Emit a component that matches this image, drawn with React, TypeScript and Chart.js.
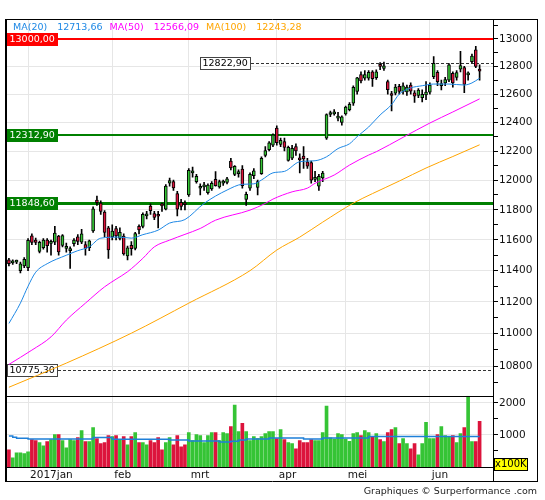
import React, { useEffect, useRef } from "react";
import { Chart, registerables } from "chart.js";

Chart.register(...registerables);

// ---------------- data ----------------
const monthKeys = ["2016-12", "2017-01", "2017-02", "2017-03", "2017-04", "2017-05", "2017-06"];
const monthTickLabels = ["", "2017jan", "feb", "mrt", "apr", "mei", "jun"];
const decDays = [23, 27, 28, 29, 30];
const janDays = [2, 3, 4, 5, 6, 9, 10, 11, 12, 13, 16, 17, 18, 19, 20, 23, 24, 25, 26, 27, 30, 31];
const febDays = [1, 2, 3, 6, 7, 8, 9, 10, 13, 14, 15, 16, 17, 20, 21, 22, 23, 24, 27, 28];
const marDays = [1, 2, 3, 6, 7, 8, 9, 10, 13, 14, 15, 16, 17, 20, 21, 22, 23, 24, 27, 28, 29, 30, 31];
const aprDays = [3, 4, 5, 6, 7, 10, 11, 12, 13, 18, 19, 20, 21, 24, 25, 26, 27, 28];
const mayDays = [2, 3, 4, 5, 8, 9, 10, 11, 12, 15, 16, 17, 18, 19, 22, 23, 24, 25, 26, 29, 30, 31];
const junDays = [1, 2, 6, 7, 8, 9, 12, 13, 14, 15, 16, 19, 20, 21];
const monthDays = [decDays, janDays, febDays, marDays, aprDays, mayDays, junDays];
const trailingSlots = 3;

const opens = [
  11470, 11450, 11455, 11400, 11430, 11420, 11628, 11600, 11525, 11550,
  11600, 11578, 11585, 11625, 11565, 11545, 11530, 11575, 11620, 11585,
  11570, 11550, 11660, 11865, 11845, 11785, 11680, 11620, 11676, 11610,
  11625, 11495, 11565, 11545, 11690, 11690, 11760, 11825, 11775, 11770,
  11830, 11805, 11980, 11990, 11910, 11850, 11845, 11900, 12050, 11990,
  11945, 11955, 11915, 11940, 12005, 11955, 11980, 11985, 12130, 12040,
  12045, 12075, 11870, 11945, 12030, 11950, 12045, 12170, 12210, 12240,
  12360, 12245, 12265, 12135, 12150, 12230, 12150, 12165, 12125, 12120,
  12005, 11960, 12015, 12290, 12455, 12460, 12430, 12400, 12460, 12490,
  12535, 12620, 12740, 12715, 12715, 12760, 12718, 12815, 12785, 12690,
  12600, 12606, 12655, 12620, 12615, 12665, 12610, 12590, 12575, 12595,
  12613, 12725, 12757, 12660, 12680, 12700, 12750, 12720, 12780, 12790,
  12738, 12834, 12920, 12780,
];
const highs = [
  11480, 11470, 11468, 11455, 11485, 11610, 11640, 11612, 11592, 11610,
  11610, 11600, 11690, 11630, 11635, 11580, 11555, 11610, 11635, 11670,
  11590, 11600, 11820, 11893, 11860, 11795, 11690, 11700, 11690, 11680,
  11640, 11560, 11590, 11650, 11700, 11780, 11790, 11840, 11790, 11790,
  11845, 11970, 12015, 12000, 11925, 11870, 11860, 12080, 12090, 12040,
  11975, 11985, 11975, 11990, 12058, 12000, 12000, 12020, 12150, 12100,
  12070, 12100, 11920, 12050, 12080, 12000, 12160, 12230, 12265, 12320,
  12376, 12290, 12290, 12235, 12240, 12250, 12180, 12230, 12150, 12130,
  12060, 12040, 12060, 12460, 12480, 12490, 12470, 12445, 12515, 12540,
  12660, 12720, 12760, 12770, 12770, 12770, 12775, 12828, 12830, 12700,
  12620, 12670, 12670, 12680, 12665, 12680, 12625, 12640, 12630, 12690,
  12680, 12870, 12770, 12700, 12720, 12820, 12760, 12770, 12910, 12800,
  12760, 12890, 12945, 12810,
];
const lows = [
  11430, 11440, 11445, 11385, 11420, 11400, 11570, 11570, 11515, 11540,
  11520, 11500, 11570, 11500, 11555, 11520, 11415, 11560, 11570, 11575,
  11500, 11530, 11650, 11830, 11770, 11620, 11480, 11600, 11600, 11600,
  11500, 11470, 11500, 11535, 11640, 11680, 11740, 11770, 11735, 11680,
  11790, 11800, 11960, 11930, 11760, 11800, 11800, 11890, 12020, 11980,
  11900, 11930, 11905, 11930, 11960, 11945, 11965, 11975, 12070, 12030,
  12020, 11945, 11830, 11930, 12010, 11900, 12040, 12160, 12200, 12230,
  12240, 12230, 12200, 12130, 12140, 12170, 12050, 12080, 12080, 11980,
  11990, 11930, 11990, 12280, 12440, 12450, 12410, 12380, 12450, 12480,
  12520, 12600, 12680, 12700, 12700, 12655, 12705, 12775, 12770, 12600,
  12480, 12595, 12600, 12600, 12590, 12600, 12540, 12575, 12545, 12560,
  12600, 12710, 12660, 12630, 12660, 12690, 12650, 12700, 12760, 12610,
  12700, 12825, 12790, 12700,
];
const closes = [
  11445, 11462, 11462, 11445, 11473, 11598, 11584, 11584, 11585, 11599,
  11563, 11583, 11646, 11521, 11629, 11555, 11540, 11599, 11590, 11640,
  11545, 11594, 11806, 11848, 11790, 11650, 11535, 11659, 11627, 11651,
  11509, 11549, 11543, 11643, 11666, 11770, 11771, 11794, 11750, 11757,
  11827, 11960, 11998, 11948, 11804, 11822, 11834, 12067, 12059, 12027,
  11958, 11966, 11967, 11978, 11963, 11990, 11988, 12009, 12083, 12095,
  12052, 11962, 11904, 12039, 12064, 11990, 12149, 12203, 12257, 12313,
  12257, 12275, 12225, 12225, 12218, 12200, 12139, 12145, 12095, 12000,
  12016, 12027, 12049, 12455, 12468, 12473, 12443, 12438, 12507, 12527,
  12648, 12716, 12694, 12740, 12757, 12711, 12760, 12800, 12804, 12631,
  12590, 12650, 12619, 12659, 12650, 12621, 12585, 12629, 12599, 12615,
  12664, 12822, 12690, 12675, 12705, 12810, 12680, 12755, 12806, 12670,
  12752, 12875, 12800, 12765,
];
// volume in units of 100K
const volumes = [
  537, 284, 442, 442, 421, 473, 852, 821, 757, 663,
  789, 852, 1010, 1010, 821, 600, 852, 821, 915, 1136,
  789, 789, 1231, 884, 726, 757, 978, 947, 978, 852,
  947, 694, 947, 1073, 757, 757, 694, 821, 757, 915,
  537, 757, 915, 694, 978, 631, 694, 1073, 821, 1010,
  978, 757, 978, 1073, 1073, 821, 1073, 1041, 1262, 1925,
  1105, 1357, 1105, 821, 947, 884, 947, 1041, 1105, 1105,
  884, 1168, 852, 757, 726, 568, 821, 757, 757, 852,
  821, 821, 1073, 1894, 910, 873, 1041, 1010, 873, 800,
  1041, 1073, 978, 1136, 1073, 947, 1041, 852, 789, 1073,
  1168, 1231, 726, 884, 726, 568, 726, 379, 726, 1389,
  884, 884, 1010, 1262, 978, 947, 978, 757, 1041, 1231,
  2400, 789, 789, 1420,
];

// moving averages: [bar index, value]
const ma20 = [
  [0, 11064], [3, 11192], [5, 11300], [7, 11390], [10, 11445], [15, 11500], [18, 11530],
  [21, 11555], [24, 11612], [29, 11619], [32, 11612], [35, 11635], [39, 11665], [42, 11712],
  [46, 11735], [51, 11843], [57, 11933], [61, 11972], [64, 11975], [66, 12001], [69, 12050],
  [72, 12060], [76, 12126], [80, 12133], [83, 12160], [86, 12217], [89, 12250], [91, 12300],
  [94, 12367], [97, 12452], [100, 12525], [102, 12600], [105, 12644], [108, 12660],
  [111, 12672], [115, 12672], [119, 12665], [121, 12680], [123, 12714],
];
const ma50 = [
  [0, 10810], [6, 10898], [11, 10980], [15, 11085], [20, 11192], [25, 11296], [28, 11345],
  [31, 11393], [35, 11480], [38, 11555], [42, 11599], [46, 11637], [50, 11676], [54, 11731],
  [63, 11798], [67, 11843], [69, 11872], [74, 11921], [78, 11946], [80, 11979], [85, 12035],
  [89, 12103], [94, 12172], [96, 12195], [103, 12295], [110, 12395], [116, 12473], [123, 12566],
];
const ma100 = [
  [0, 10671], [15, 10818], [32, 11003], [47, 11192], [63, 11400], [70, 11534], [76, 11619],
  [82, 11718], [90, 11845], [95, 11909], [102, 11994], [109, 12083], [116, 12162], [123, 12243],
];
// volume average (steps): [bar index, value]
const volumeAverage = [
  [0, 968], [1, 926], [2, 894], [5, 873], [22, 915], [27, 863], [42, 842], [47, 810],
  [55, 778], [58, 800], [60, 842], [62, 873], [68, 905], [77, 873], [82, 905], [94, 947], [123, 947],
];

const legendNames = ["MA(20)", "MA(50)", "MA(100)"];
const legendValues = [12713.66, 12566.09, 12243.28];
const resistanceLevel = 13000;
const supportLevels = [12312.9, 11848.6];
const markerLevels = [12822.9, 10775.3];

const priceTicks = [
  10700, 10800, 10900, 11000, 11100, 11200, 11300, 11400, 11500, 11600, 11700, 11800, 11900,
  12000, 12100, 12200, 12300, 12400, 12500, 12600, 12700, 12800, 12900, 13000, 13100,
];
const volumeTicks = [500, 1000, 1500, 2000];
const priceMin = 10620;
const priceMax = 13148;
const volumeMax = 2220;
const volumeUnit = "x100K";
const footerText = "Graphiques \u00a9 Surperformance .com";

// ---------------- styles ----------------
const FONT = '"DejaVu Sans", Verdana, sans-serif';
const UP = "#35c435";
const DOWN = "#dc143c";
const MA_COLORS = ["#1e88e5", "#ff00ff", "#ffa500"];
const GRID = "#e6e6e6";
const SUPPORT_WIDTHS = [2, 3];
const MARKER_OFFSETS = [193, 0];

const fmt = (v: number) => v.toFixed(2).replace(".", ",");

function buildLabels() {
  const labels: string[] = [];
  const tickText: Record<number, string> = {};
  monthKeys.forEach((key, m) => {
    monthDays[m].forEach((d, k) => {
      if (k === 0 && monthTickLabels[m]) tickText[labels.length] = monthTickLabels[m];
      labels.push(`${key}-${String(d).padStart(2, "0")}`);
    });
  });
  for (let i = 0; i < trailingSlots; i++) labels.push(`pad-${i}`);
  return { labels, tickText };
}

const decor = {
  id: "decor",
  beforeDatasetDraw(chart: any, args: any) {
    const s = chart.scales[args.meta.yAxisID];
    const a = chart.chartArea;
    const ctx = chart.ctx;
    ctx.save();
    ctx.beginPath();
    ctx.rect(a.left, s.top, a.right - a.left, s.bottom - s.top);
    ctx.clip();
  },
  afterDatasetDraw(chart: any) {
    chart.ctx.restore();
  },
  beforeDatasetsDraw(chart: any) {
    const ctx = chart.ctx;
    const a = chart.chartArea;
    const y = chart.scales.y;
    const bh = 13;
    ctx.save();
    ctx.font = `9.5px ${FONT}`;
    ctx.textBaseline = "middle";
    ctx.textAlign = "left";

    const solid = (v: number, color: string, lw: number) => {
      let py = Math.round(y.getPixelForValue(v));
      if (lw % 2 === 1) py += 0.5;
      const t = fmt(v);
      const bw = Math.ceil(ctx.measureText(t).width) + 5;
      ctx.strokeStyle = color;
      ctx.lineWidth = lw;
      ctx.beginPath();
      ctx.moveTo(a.left + bw, py);
      ctx.lineTo(a.right, py);
      ctx.stroke();
      ctx.fillStyle = color;
      ctx.fillRect(a.left, Math.round(py - bh / 2), bw, bh);
      ctx.fillStyle = "#ffffff";
      ctx.fillText(t, a.left + 2.5, Math.round(py - bh / 2) + bh / 2 + 0.5);
    };
    solid(resistanceLevel, "#ff0000", 2);
    supportLevels.forEach((v, i) => solid(v, "#008000", SUPPORT_WIDTHS[i]));

    markerLevels.forEach((v, i) => {
      const py = Math.round(y.getPixelForValue(v)) + 0.5;
      const t = fmt(v);
      const bw = Math.ceil(ctx.measureText(t).width) + 5;
      const bx = Math.round(a.left + MARKER_OFFSETS[i]);
      ctx.strokeStyle = "#333333";
      ctx.lineWidth = 1;
      ctx.setLineDash([3, 2]);
      ctx.beginPath();
      ctx.moveTo(bx + bw, py);
      ctx.lineTo(a.right, py);
      ctx.stroke();
      ctx.setLineDash([]);
      const top = Math.round(py - bh / 2);
      ctx.fillStyle = "#ffffff";
      ctx.fillRect(bx, top, bw, bh);
      ctx.strokeStyle = "#444444";
      ctx.strokeRect(bx + 0.5, top + 0.5, bw - 1, bh - 1);
      ctx.fillStyle = "#000000";
      ctx.fillText(t, bx + 2.5, top + bh / 2 + 0.5);
    });
    ctx.restore();
  },
  afterDraw(chart: any) {
    const ctx = chart.ctx;
    const a = chart.chartArea;
    const y = chart.scales.y;
    const yv = chart.scales.yv;
    const x = chart.scales.x;
    const frameRight = yv.right;
    const frameBottom = Math.round(x.bottom);
    ctx.save();
    ctx.strokeStyle = "#000000";
    const line = (x1: number, y1: number, x2: number, y2: number, w = 1) => {
      ctx.lineWidth = w;
      ctx.beginPath();
      ctx.moveTo(x1, y1);
      ctx.lineTo(x2, y2);
      ctx.stroke();
    };
    const L = Math.round(a.left);
    const R = Math.round(a.right);
    const T = Math.round(a.top);
    line(L, T + 0.5, frameRight, T + 0.5);
    line(frameRight - 0.5, T, frameRight - 0.5, frameBottom);
    line(L, frameBottom - 0.5, frameRight, frameBottom - 0.5);
    line(L - 1, T, L - 1, frameBottom, 2);
    line(R + 0.5, T, R + 0.5, frameBottom);
    line(L, Math.round(y.bottom) + 0.5, R, Math.round(y.bottom) + 0.5);
    line(L, Math.round(yv.bottom) + 0.5, R, Math.round(yv.bottom) + 0.5);

    // legend
    ctx.font = `9.5px ${FONT}`;
    ctx.textBaseline = "middle";
    ctx.textAlign = "left";
    let lx = a.left + 6;
    const ly = a.top + 8.5;
    legendNames.forEach((name, i) => {
      ctx.fillStyle = MA_COLORS[i];
      ctx.fillText(name, lx, ly);
      lx += ctx.measureText(name).width + 10;
      const vt = fmt(legendValues[i]);
      ctx.fillText(vt, lx, ly);
      lx += ctx.measureText(vt).width + 7;
    });

    // unit box
    ctx.font = `10px ${FONT}`;
    const uw = Math.ceil(ctx.measureText(volumeUnit).width) + 2;
    const ub = Math.round(yv.bottom);
    ctx.fillStyle = "#ffff00";
    ctx.fillRect(R + 1, ub - 9, uw, 13);
    ctx.lineWidth = 1;
    ctx.strokeStyle = "#000000";
    ctx.strokeRect(R + 1.5, ub - 8.5, uw - 1, 12);
    ctx.fillStyle = "#000000";
    ctx.fillText(volumeUnit, R + 2, ub - 2.5);

    // footer
    ctx.font = `9.5px ${FONT}`;
    ctx.textAlign = "right";
    ctx.fillStyle = "#222222";
    ctx.fillText(footerText, frameRight - 1, frameBottom + 9.5);
    ctx.restore();
  },
};

export default function App() {
  const ref = useRef<HTMLCanvasElement | null>(null);

  useEffect(() => {
    const { labels, tickText } = buildLabels();
    const n = closes.length;
    const dirColors = closes.map((c, i) => (c >= opens[i] ? UP : DOWN));
    const toPoints = (arr: number[][]) => arr.map(([i, v]) => ({ x: labels[i], y: v }));
    const axisFont = { family: FONT, size: 10.5 };

    const chart = new Chart(ref.current as HTMLCanvasElement, {
      type: "bar",
      data: {
        labels,
        datasets: [
          ...[ma20, ma50, ma100].map((arr, k) => ({
            type: "line" as const,
            data: toPoints(arr),
            borderColor: MA_COLORS[k],
            borderWidth: 1,
            pointRadius: 0,
            cubicInterpolationMode: "monotone" as const,
            yAxisID: "y",
            order: 0,
          })),
          {
            type: "line" as const,
            data: toPoints(volumeAverage),
            borderColor: "#1e7fd8",
            borderWidth: 1.5,
            pointRadius: 0,
            stepped: true,
            yAxisID: "yv",
            order: 0,
          },
          {
            type: "bar" as const,
            data: opens.map((o, i) => [o, closes[i]]),
            backgroundColor: dirColors,
            borderColor: "#000000",
            borderWidth: 1,
            borderSkipped: false,
            barThickness: 3,
            minBarLength: 2,
            grouped: false,
            yAxisID: "y",
            order: 1,
          },
          {
            type: "bar" as const,
            data: lows.map((l, i) => [l, highs[i]]),
            backgroundColor: "#000000",
            borderWidth: 0,
            barThickness: 1,
            grouped: false,
            yAxisID: "y",
            order: 2,
          },
          {
            type: "bar" as const,
            data: volumes.slice(0, n),
            backgroundColor: dirColors,
            borderWidth: 0,
            barThickness: 3,
            grouped: false,
            yAxisID: "yv",
            order: 3,
          },
        ] as any,
      },
      options: {
        responsive: false,
        animation: false,
        events: [],
        layout: { padding: { left: 7, right: 7, top: 19, bottom: 18 } },
        plugins: { legend: { display: false }, tooltip: { enabled: false } },
        scales: {
          x: {
            type: "category",
            offset: true,
            border: { display: false },
            grid: { offset: false, color: GRID, drawTicks: false, lineWidth: 1 },
            ticks: {
              autoSkip: false,
              maxRotation: 0,
              align: "start",
              labelOffset: 2,
              padding: 2,
              color: "#111111",
              font: axisFont,
              callback: (v: any) => tickText[v] ?? "",
            },
            afterBuildTicks: (s: any) => {
              s.ticks = Object.keys(tickText).map((k) => ({ value: Number(k) }));
            },
            afterFit: (s: any) => {
              s.height = 15;
            },
          },
          y: {
            type: "logarithmic",
            position: "right",
            stack: "panels",
            stackWeight: 376.7,
            min: priceMin,
            max: priceMax,
            border: { display: false },
            grid: {
              color: (c: any) => (c.tick && c.tick.value % 200 === 0 ? GRID : "rgba(0,0,0,0)"),
              tickColor: "#000000",
              tickLength: 5,
            },
            ticks: {
              autoSkip: false,
              padding: 1,
              color: "#111111",
              font: axisFont,
              callback: (v: any) => (Number(v) % 200 === 0 ? String(v) : ""),
            },
            afterBuildTicks: (s: any) => {
              s.ticks = priceTicks.map((v) => ({ value: v }));
            },
            afterFit: (s: any) => {
              s.width = 45;
            },
          },
          yv: {
            type: "linear",
            position: "right",
            stack: "panels",
            stackWeight: 71.3,
            min: 0,
            max: volumeMax,
            border: { display: false },
            grid: {
              color: (c: any) => (c.tick && c.tick.value % 1000 === 0 ? GRID : "rgba(0,0,0,0)"),
              tickColor: "#000000",
              tickLength: 5,
            },
            ticks: {
              autoSkip: false,
              padding: 1,
              color: "#111111",
              font: axisFont,
              callback: (v: any) => (Number(v) % 1000 === 0 ? String(v) : ""),
            },
            afterBuildTicks: (s: any) => {
              s.ticks = volumeTicks.map((v) => ({ value: v }));
            },
            afterFit: (s: any) => {
              s.width = 45;
            },
          },
        },
      } as any,
      plugins: [decor],
    });
    return () => chart.destroy();
  }, []);

  return (
    <div style={{ position: "absolute", left: 0, top: 0, width: 545, height: 500, background: "#ffffff" }}>
      <canvas ref={ref} width={545} height={500} style={{ width: 545, height: 500, display: "block" }} />
    </div>
  );
}
